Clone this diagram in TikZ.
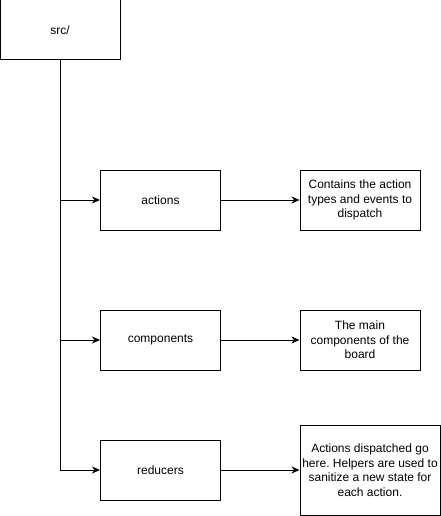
\documentclass[tikz,border=0pt]{standalone}
\usepackage{fontspec}
\setmainfont{Liberation Sans}
\usetikzlibrary{arrows.meta}
\frenchspacing
\begin{document}
\begin{tikzpicture}[x=1pt,y=-1pt,
  box/.style={draw, line width=1pt, minimum width=120pt, minimum height=60pt, inner sep=0pt, align=center, font=\fontsize{12}{14.5}\selectfont},
  conn/.style={line width=1pt, -{Stealth[length=8pt,width=7pt,inset=2.5pt]}}]
\useasboundingbox (0,0) rectangle (441,516);
\node[box] (src) at (60,30) {src/};
\node[box] (actions) at (160.5,200) {actions};
\node[box] (components) at (160.5,340) {components};
\node[box] (reducers) at (160.5,470) {reducers};
\node[box] (d1) at (360,200) {Contains the action\\types and events to\\dispatch};
\node[box] (d2) at (360,340) {The main\\components of the\\board};
\node[box, minimum width=140pt, minimum height=90pt] (d3) at (370,470) {Actions dispatched go\\here. Helpers are used to\\sanitize a new state for\\each action.};
\coordinate (j3) at (src.south |- reducers.west);
\draw[line width=1pt] (src.south) -- (j3);
\draw[conn] (src.south |- actions.west) -- (actions.west);
\draw[conn] (src.south |- components.west) -- (components.west);
\draw[conn] (j3) -- (reducers.west);
\draw[conn] (actions.east) -- (d1.west);
\draw[conn] (components.east) -- (d2.west);
\draw[conn] (reducers.east) -- (d3.west);
\end{tikzpicture}
\end{document}
